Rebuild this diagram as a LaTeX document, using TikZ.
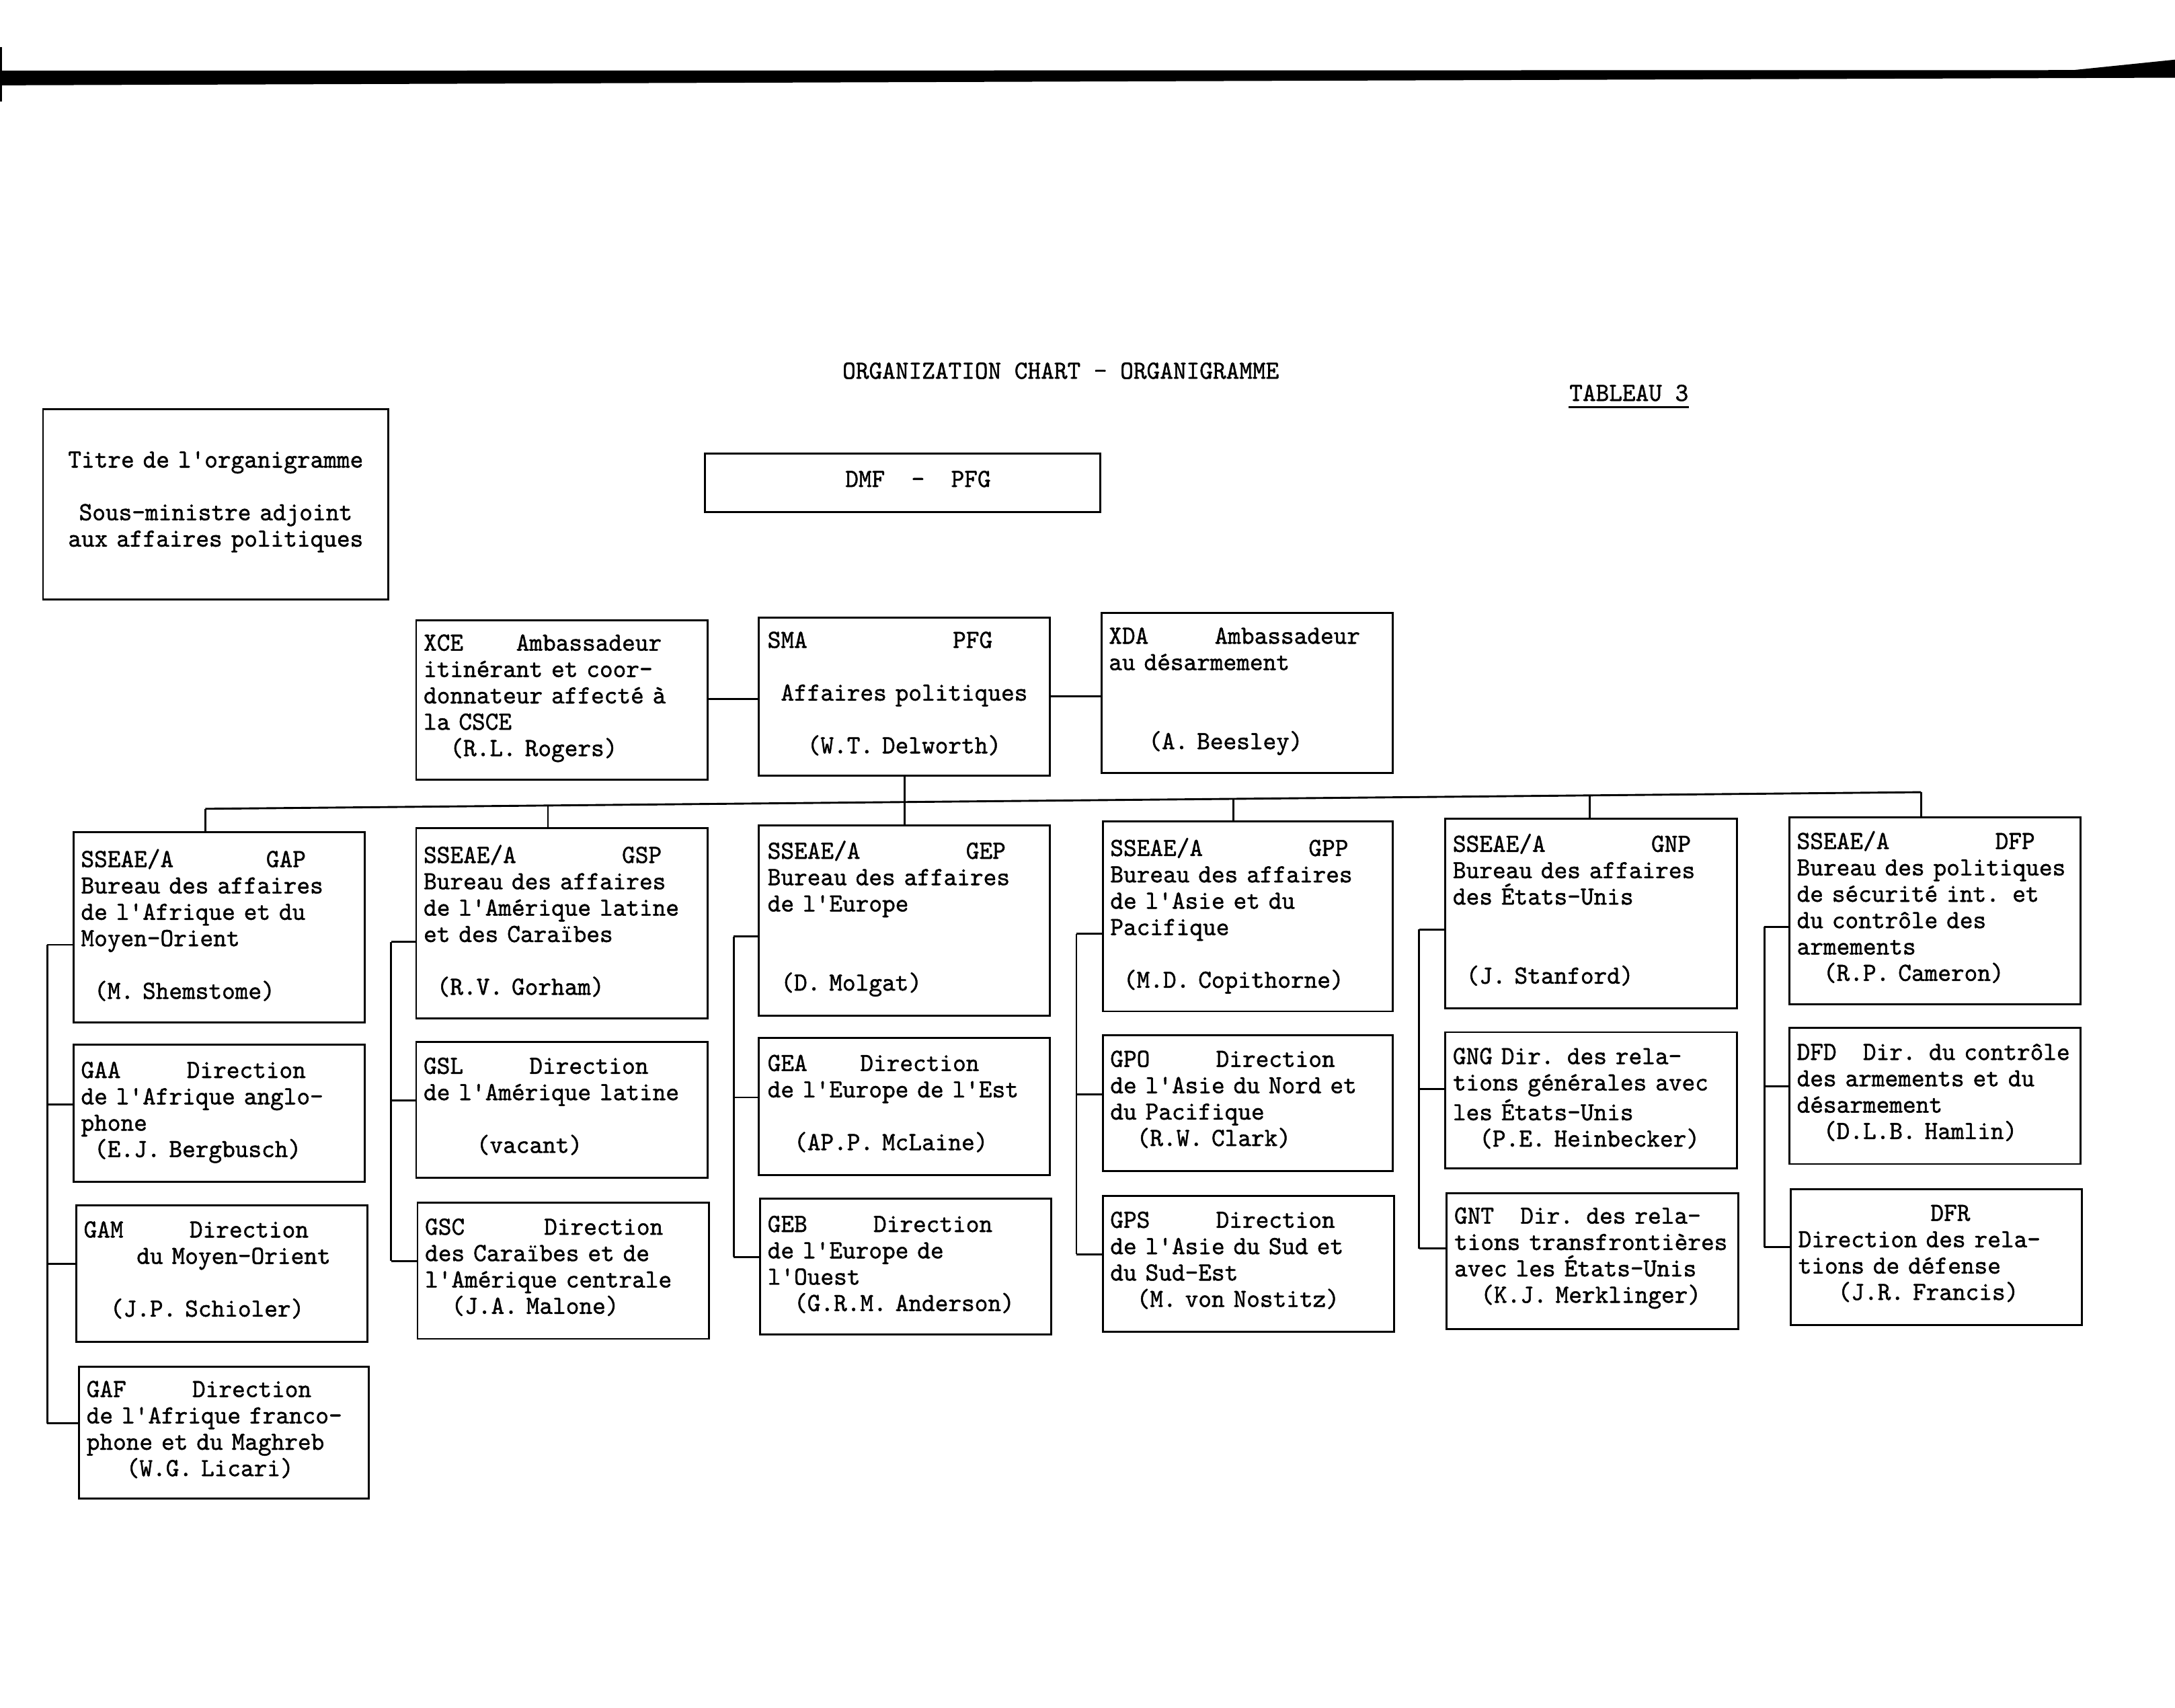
\documentclass[tikz,border=0pt]{standalone}
\usepackage{fontspec}
\setmonofont{lmmono10-regular.otf}[FakeStretch=0.966,FakeBold=1.2]
\usetikzlibrary{fit}
\newcommand\sk[1]{\hspace*{#1\fontcharwd\font`0}}
\newcommand\bl{\\[9.5pt]}
\newcommand\bll{\\[19pt]}
\newcommand\tw{\ttfamily\fontsize{9.4pt}{9.5pt}\selectfont}
\tikzset{
  box/.style={draw, line width=0.7pt, inner sep=0pt},
  txt/.style={anchor=base west, inner sep=0pt, text width=118pt, align=left, font=\tw},
  wire/.style={line width=0.7pt},
}
\begin{document}
\begin{tikzpicture}[x=0.5pt,y=-0.5pt]
\useasboundingbox (0,0) rectangle (1568,1231);
% scan bar at top
\fill (0,51) -- (1568,50.5) -- (1568,56) -- (0,61.5) -- cycle;
\fill (1490,51) -- (1568,43) -- (1568,51) -- cycle;
\fill (0,34) rectangle (1.5,73);

% headings
\node[font=\tw, anchor=base west, inner sep=0pt] (head) at (607,273) {ORGANIZATION CHART - ORGANIGRAMME};
\node[font=\tw, anchor=base west, inner sep=0pt] (tabl) at (1131,289) {TABLEAU\sk{1}3};
\draw[line width=0.8pt] (tabl.base west) ++(0,4.5) coordinate (ul1) -- (ul1 -| tabl.east);

% title box
\node[box, fit={(31,295) (280,432)}] (tbox) {};
\node[font=\tw, anchor=base, inner sep=0pt, text width=124pt, align=center] (tbox-t) at (155.5,337)
  {Titre de l'organigramme\bl Sous-ministre adjoint\\aux affaires politiques};

% DMF box
\node[box, fit={(508,327) (793,369)}] (dmf) {};
\node[txt] (dmf-t) at (609,351) {DMF\sk{2}-\sk{2}PFG};

% second level
\node[box, fit={(300,447) (510,562)}] (xce) {};
\node[txt] (xce-t) at (305,469) {XCE\sk{4}Ambassadeur\\itinérant et coor-\\donnateur affecté à\\la CSCE\\\sk{2}(R.L. Rogers)};
\node[box, fit={(547,445) (757,559)}] (sma) {};
\node[txt] (sma-t) at (553,467) {SMA\sk{11}PFG\bl\sk{1}Affaires politiques\bl\sk{3}(W.T. Delworth)};
\node[box, fit={(794,442) (1004,557)}] (xda) {};
\node[txt] (xda-t) at (799,464) {XDA\sk{5}Ambassadeur\\au désarmement\bll\sk{3}(A. Beesley)};

\coordinate (h1) at (0,504);
\coordinate (h2) at (0,502);
\draw[wire] (h1 -| xce.east) -- (h1 -| sma.west);
\draw[wire] (h2 -| sma.east) -- (h2 -| xda.west);

% row 1
\node[box, fit={(53,600) (263,737)}] (gap) {};
\node[txt] (gap-t) at (58,625) {SSEAE/A\sk{7}GAP\\Bureau des affaires\\de l'Afrique et du\\Moyen-Orient\bl\sk{1}(M. Shemstome)};
\node[box, fit={(300,597) (510,734)}] (gsp) {};
\node[txt] (gsp-t) at (305,622) {SSEAE/A\sk{8}GSP\\Bureau des affaires\\de l'Amérique latine\\et des Caraïbes\bl\sk{1}(R.V. Gorham)};
\node[box, fit={(547,595) (757,732)}] (gep) {};
\node[txt] (gep-t) at (553,619) {SSEAE/A\sk{8}GEP\\Bureau des affaires\\de l'Europe\bll\sk{1}(D. Molgat)};
\node[box, fit={(795,592) (1004,729)}] (gpp) {};
\node[txt] (gpp-t) at (800,617) {SSEAE/A\sk{8}GPP\\Bureau des affaires\\de l'Asie et du\\Pacifique\bl\sk{1}(M.D. Copithorne)};
\node[box, fit={(1042,590) (1252,727)}] (gnp) {};
\node[txt] (gnp-t) at (1047,614) {SSEAE/A\sk{8}GNP\\Bureau des affaires\\des États-Unis\bll\sk{1}(J. Stanford)};
\node[box, fit={(1290,589) (1500,724)}] (dfp) {};
\node[txt] (dfp-t) at (1295,612) {SSEAE/A\sk{8}DFP\\Bureau des politiques\\de sécurité int. et\\du contrôle des\\armements\\\sk{2}(R.P. Cameron)};

% row 2
\node[box, fit={(53,753) (263,852)}] (gaa) {};
\node[txt] (gaa-t) at (58,777) {GAA\sk{5}Direction\\de l'Afrique anglo-\\phone\\\sk{1}(E.J. Bergbusch)};
\node[box, fit={(300,751) (510,849)}] (gsl) {};
\node[txt] (gsl-t) at (305,774) {GSL\sk{5}Direction\\de l'Amérique latine\bl\sk{4}(vacant)};
\node[box, fit={(547,748) (757,847)}] (gea) {};
\node[txt] (gea-t) at (553,772) {GEA\sk{4}Direction\\de l'Europe de l'Est\bl\sk{2}(AP.P. McLaine)};
\node[box, fit={(795,746) (1004,844)}] (gpo) {};
\node[txt] (gpo-t) at (800,769) {GPO\sk{5}Direction\\de l'Asie du Nord et\\du Pacifique\\\sk{2}(R.W. Clark)};
\node[box, fit={(1042,744) (1252,842)}] (gng) {};
\node[txt] (gng-t) at (1047,767) {GNG Dir. des rela-\\tions générales avec\\les États-Unis\\\sk{2}(P.E. Heinbecker)};
\node[box, fit={(1290,741) (1500,839)}] (dfd) {};
\node[txt] (dfd-t) at (1295,764) {DFD\sk{2}Dir. du contrôle\\des armements et du\\désarmement\\\sk{2}(D.L.B. Hamlin)};

% row 3
\node[box, fit={(55,869) (265,967)}] (gam) {};
\node[txt] (gam-t) at (60,892) {GAM\sk{5}Direction\\\sk{4}du Moyen-Orient\bl\sk{2}(J.P. Schioler)};
\node[box, fit={(301,867) (511,965)}] (gsc) {};
\node[txt] (gsc-t) at (306,890) {GSC\sk{6}Direction\\des Caraïbes et de\\l'Amérique centrale\\\sk{2}(J.A. Malone)};
\node[box, fit={(548,864) (758,962)}] (geb) {};
\node[txt] (geb-t) at (553,888) {GEB\sk{5}Direction\\de l'Europe de\\l'Ouest\\\sk{2}(G.R.M. Anderson)};
\node[box, fit={(795,862) (1005,960)}] (gps) {};
\node[txt] (gps-t) at (800,885) {GPS\sk{5}Direction\\de l'Asie du Sud et\\du Sud-Est\\\sk{2}(M. von Nostitz)};
\node[box, fit={(1043,860) (1253,958)}] (gnt) {};
\node[txt] (gnt-t) at (1048,882) {GNT\sk{2}Dir. des rela-\\tions transfrontières\\avec les États-Unis\\\sk{2}(K.J. Merklinger)};
\node[box, fit={(1291,857) (1501,955)}] (dfr) {};
\node[txt] (dfr-t) at (1296,880) {\sk{10}DFR\\Direction des rela-\\tions de défense\\\sk{3}(J.R. Francis)};

% row 4
\node[box, fit={(57,985) (266,1080)}] (gaf) {};
\node[txt] (gaf-t) at (62,1007) {GAF\sk{5}Direction\\de l'Afrique franco-\\phone et du Maghreb\\\sk{3}(W.G. Licari)};

% bus
\coordinate (busL) at (148,583);
\coordinate (busR) at (1385,571);
\draw[wire] (busL) -- (busR);
\coordinate (d2) at (395,580.6);
\coordinate (d3) at (652,578);
\coordinate (d4) at (889,575.8);
\coordinate (d5) at (1146,573.3);
\draw[wire] (busL) -- (busL |- gap.north);
\draw[wire] (d2) -- (d2 |- gsp.north);
\draw[wire] (d3 |- sma.south) -- (d3 |- gep.north);
\draw[wire] (d4) -- (d4 |- gpp.north);
\draw[wire] (d5) -- (d5 |- gnp.north);
\draw[wire] (busR) -- (busR |- dfp.north);

% side spines
\coordinate (s11) at (34,681); \coordinate (s12) at (34,796);
\coordinate (s13) at (34,911); \coordinate (s14) at (34,1026);
\draw[wire] (s11) -- (s14);
\draw[wire] (s11) -- (s11 -| gap.west);
\draw[wire] (s12) -- (s12 -| gaa.west);
\draw[wire] (s13) -- (s13 -| gam.west);
\draw[wire] (s14) -- (s14 -| gaf.west);

\coordinate (s21) at (282,679); \coordinate (s22) at (282,793); \coordinate (s23) at (282,909);
\draw[wire] (s21) -- (s23);
\draw[wire] (s21) -- (s21 -| gsp.west);
\draw[wire] (s22) -- (s22 -| gsl.west);
\draw[wire] (s23) -- (s23 -| gsc.west);

\coordinate (s31) at (529,675); \coordinate (s32) at (529,791); \coordinate (s33) at (529,906);
\draw[wire] (s31) -- (s33);
\draw[wire] (s31) -- (s31 -| gep.west);
\draw[wire] (s32) -- (s32 -| gea.west);
\draw[wire] (s33) -- (s33 -| geb.west);

\coordinate (s41) at (776,673); \coordinate (s42) at (776,789); \coordinate (s43) at (776,904);
\draw[wire] (s41) -- (s43);
\draw[wire] (s41) -- (s41 -| gpp.west);
\draw[wire] (s42) -- (s42 -| gpo.west);
\draw[wire] (s43) -- (s43 -| gps.west);

\coordinate (s51) at (1023,670); \coordinate (s52) at (1023,785); \coordinate (s53) at (1023,900);
\draw[wire] (s51) -- (s53);
\draw[wire] (s51) -- (s51 -| gnp.west);
\draw[wire] (s52) -- (s52 -| gng.west);
\draw[wire] (s53) -- (s53 -| gnt.west);

\coordinate (s61) at (1272,668); \coordinate (s62) at (1272,783); \coordinate (s63) at (1272,899);
\draw[wire] (s61) -- (s63);
\draw[wire] (s61) -- (s61 -| dfp.west);
\draw[wire] (s62) -- (s62 -| dfd.west);
\draw[wire] (s63) -- (s63 -| dfr.west);
\end{tikzpicture}
\end{document}
